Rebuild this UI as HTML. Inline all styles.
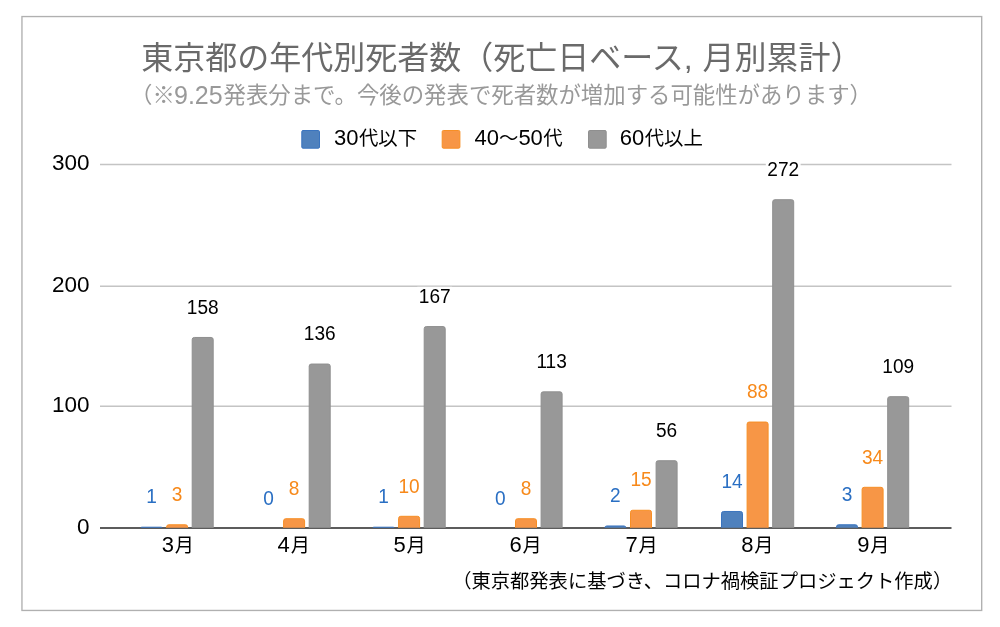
<!DOCTYPE html>
<html lang="ja">
<head>
<meta charset="utf-8">
<title>東京都の年代別死者数（死亡日ベース, 月別累計）</title>
<style>
html,body{margin:0;padding:0;background:#fff;}
body{width:1000px;height:627px;overflow:hidden;}
svg{display:block;}
text{font-family:"Liberation Sans","Noto Sans CJK JP",sans-serif;}
.title{font-size:32px;fill:#6a6a6a;}
.sub{font-size:22.4px;fill:#999;}
.sn{font-size:25px;}
.leg{font-size:19.4px;fill:#000;}
.n{font-size:22px;}
.ax{font-size:22.5px;fill:#000;}
.cat{font-size:19.2px;fill:#000;}
.dl{font-size:20.3px;}
.foot{font-size:19.3px;fill:#000;}
</style>
</head>
<body>
<svg width="1000" height="627" viewBox="0 0 1000 627">
<rect x="0" y="0" width="1000" height="627" fill="#fff"/>
<rect x="21.95" y="16.55" width="959.75" height="593.9" fill="none" stroke="#b0b0b0" stroke-width="1.35"/>
<text class="title" x="141.3" y="68.6">東京都の年代別死者数（死亡日ベース, <tspan x="702.6">月別累計）</tspan></text>
<text class="sub" x="130" y="102.5">（※<tspan class="sn" x="174" y="103.8">9.25</tspan><tspan x="223.5" y="102.5">発表分まで。今後の発表で死者数が増加する可能性があります）</tspan></text>
<rect x="301.8" y="130.5" width="17.7" height="17.7" rx="1.2" fill="#4f81bd" stroke="#3a74bf" stroke-width="1"/>
<text class="leg" x="334.0" y="144.7"><tspan class="n" dy="0.6">30</tspan><tspan dy="-0.6" dx="0.4">代以下</tspan></text>
<rect x="442.2" y="130.5" width="17.7" height="17.7" rx="1.2" fill="#f79646" stroke="#f78f25" stroke-width="1"/>
<text class="leg" x="474.5" y="144.7"><tspan class="n" dy="0.6">40</tspan><tspan dy="-0.6" dx="0">〜</tspan><tspan class="n" dy="0.6">50</tspan><tspan dy="-0.6" dx="0.4">代</tspan></text>
<rect x="588.5" y="130.5" width="17.7" height="17.7" rx="1.2" fill="#989898" stroke="#8f8f8f" stroke-width="1"/>
<text class="leg" x="619.8" y="144.7"><tspan class="n" dy="0.6">60</tspan><tspan dy="-0.6" dx="0.4">代以上</tspan></text>
<line x1="100" x2="951.5" y1="406.2" y2="406.2" stroke="#c4c4c4" stroke-width="1.5"/>
<line x1="100" x2="951.5" y1="286.3" y2="286.3" stroke="#c4c4c4" stroke-width="1.5"/>
<line x1="100" x2="951.5" y1="164.6" y2="164.6" stroke="#c4c4c4" stroke-width="1.5"/>
<text class="ax" x="89.5" y="533.5" text-anchor="end">0</text>
<text class="ax" x="89.5" y="411.7" text-anchor="end">100</text>
<text class="ax" x="89.5" y="291.7" text-anchor="end">200</text>
<text class="ax" x="89.5" y="170.2" text-anchor="end">300</text>
<line x1="100" x2="951.5" y1="527.9" y2="527.9" stroke="#5c5c5c" stroke-width="2"/>
<path d="M141.00 527.80V527.90Q141.00 527.19 141.71 527.19H161.29Q162.00 527.19 162.00 527.90V527.80" fill="#4f81bd" stroke="#3a74bf" stroke-width="1"/>
<path d="M166.60 527.80V526.87Q166.60 524.77 168.70 524.77H185.50Q187.60 524.77 187.60 526.87V527.80" fill="#f79646" stroke="#f78f25" stroke-width="1"/>
<path d="M192.20 527.80V339.56Q192.20 337.46 194.30 337.46H211.10Q213.20 337.46 213.20 339.56V527.80" fill="#989898" stroke="#8f8f8f" stroke-width="1"/>
<path d="M283.60 527.80V520.83Q283.60 518.73 285.70 518.73H302.50Q304.60 518.73 304.60 520.83V527.80" fill="#f79646" stroke="#f78f25" stroke-width="1"/>
<path d="M309.20 527.80V366.14Q309.20 364.04 311.30 364.04H328.10Q330.20 364.04 330.20 366.14V527.80" fill="#989898" stroke="#8f8f8f" stroke-width="1"/>
<path d="M373.00 527.80V527.90Q373.00 527.19 373.71 527.19H393.29Q394.00 527.19 394.00 527.90V527.80" fill="#4f81bd" stroke="#3a74bf" stroke-width="1"/>
<path d="M398.60 527.80V518.41Q398.60 516.31 400.70 516.31H417.50Q419.60 516.31 419.60 518.41V527.80" fill="#f79646" stroke="#f78f25" stroke-width="1"/>
<path d="M424.20 527.80V328.68Q424.20 326.58 426.30 326.58H443.10Q445.20 326.58 445.20 328.68V527.80" fill="#989898" stroke="#8f8f8f" stroke-width="1"/>
<path d="M515.50 527.80V520.83Q515.50 518.73 517.60 518.73H534.40Q536.50 518.73 536.50 520.83V527.80" fill="#f79646" stroke="#f78f25" stroke-width="1"/>
<path d="M541.10 527.80V393.94Q541.10 391.84 543.20 391.84H560.00Q562.10 391.84 562.10 393.94V527.80" fill="#989898" stroke="#8f8f8f" stroke-width="1"/>
<path d="M604.90 527.80V527.90Q604.90 525.98 606.82 525.98H623.98Q625.90 525.98 625.90 527.90V527.80" fill="#4f81bd" stroke="#3a74bf" stroke-width="1"/>
<path d="M630.50 527.80V512.37Q630.50 510.27 632.60 510.27H649.40Q651.50 510.27 651.50 512.37V527.80" fill="#f79646" stroke="#f78f25" stroke-width="1"/>
<path d="M656.10 527.80V462.82Q656.10 460.72 658.20 460.72H675.00Q677.10 460.72 677.10 462.82V527.80" fill="#989898" stroke="#8f8f8f" stroke-width="1"/>
<path d="M721.50 527.80V513.58Q721.50 511.48 723.60 511.48H740.40Q742.50 511.48 742.50 513.58V527.80" fill="#4f81bd" stroke="#3a74bf" stroke-width="1"/>
<path d="M747.10 527.80V424.15Q747.10 422.05 749.20 422.05H766.00Q768.10 422.05 768.10 424.15V527.80" fill="#f79646" stroke="#f78f25" stroke-width="1"/>
<path d="M772.70 527.80V201.79Q772.70 199.69 774.80 199.69H791.60Q793.70 199.69 793.70 201.79V527.80" fill="#989898" stroke="#8f8f8f" stroke-width="1"/>
<path d="M836.50 527.80V526.87Q836.50 524.77 838.60 524.77H855.40Q857.50 524.77 857.50 526.87V527.80" fill="#4f81bd" stroke="#3a74bf" stroke-width="1"/>
<path d="M862.10 527.80V489.41Q862.10 487.31 864.20 487.31H881.00Q883.10 487.31 883.10 489.41V527.80" fill="#f79646" stroke="#f78f25" stroke-width="1"/>
<path d="M887.70 527.80V398.77Q887.70 396.67 889.80 396.67H906.60Q908.70 396.67 908.70 398.77V527.80" fill="#989898" stroke="#8f8f8f" stroke-width="1"/>
<rect x="144.70" y="487.39" width="13.60" height="20" fill="#fff"/>
<text class="dl" transform="translate(151.50 503.39) scale(0.94 1)" text-anchor="middle" fill="#2a6fc3">1</text>
<rect x="170.30" y="484.97" width="13.60" height="20" fill="#fff"/>
<text class="dl" transform="translate(177.10 500.97) scale(0.94 1)" text-anchor="middle" fill="#f7891a">3</text>
<rect x="185.30" y="297.66" width="34.80" height="20" fill="#fff"/>
<text class="dl" transform="translate(202.70 313.66) scale(0.94 1)" text-anchor="middle" fill="#000">158</text>
<text class="cat" x="161.70" y="552.2"><tspan class="n">3</tspan><tspan dx="0.8">月</tspan></text>
<rect x="261.70" y="488.60" width="13.60" height="20" fill="#fff"/>
<text class="dl" transform="translate(268.50 504.60) scale(0.94 1)" text-anchor="middle" fill="#2a6fc3">0</text>
<rect x="287.30" y="478.93" width="13.60" height="20" fill="#fff"/>
<text class="dl" transform="translate(294.10 494.93) scale(0.94 1)" text-anchor="middle" fill="#f7891a">8</text>
<rect x="302.30" y="324.24" width="34.80" height="20" fill="#fff"/>
<text class="dl" transform="translate(319.70 340.24) scale(0.94 1)" text-anchor="middle" fill="#000">136</text>
<text class="cat" x="277.62" y="552.2"><tspan class="n">4</tspan><tspan dx="0.8">月</tspan></text>
<rect x="376.70" y="487.39" width="13.60" height="20" fill="#fff"/>
<text class="dl" transform="translate(383.50 503.39) scale(0.94 1)" text-anchor="middle" fill="#2a6fc3">1</text>
<rect x="397.00" y="476.51" width="24.20" height="20" fill="#fff"/>
<text class="dl" transform="translate(409.10 492.51) scale(0.94 1)" text-anchor="middle" fill="#f7891a">10</text>
<rect x="417.30" y="286.78" width="34.80" height="20" fill="#fff"/>
<text class="dl" transform="translate(434.70 302.78) scale(0.94 1)" text-anchor="middle" fill="#000">167</text>
<text class="cat" x="393.54" y="552.2"><tspan class="n">5</tspan><tspan dx="0.8">月</tspan></text>
<rect x="493.60" y="488.60" width="13.60" height="20" fill="#fff"/>
<text class="dl" transform="translate(500.40 504.60) scale(0.94 1)" text-anchor="middle" fill="#2a6fc3">0</text>
<rect x="519.20" y="478.93" width="13.60" height="20" fill="#fff"/>
<text class="dl" transform="translate(526.00 494.93) scale(0.94 1)" text-anchor="middle" fill="#f7891a">8</text>
<rect x="534.20" y="352.04" width="34.80" height="20" fill="#fff"/>
<text class="dl" transform="translate(551.60 368.04) scale(0.94 1)" text-anchor="middle" fill="#000">113</text>
<text class="cat" x="509.46" y="552.2"><tspan class="n">6</tspan><tspan dx="0.8">月</tspan></text>
<rect x="608.60" y="486.18" width="13.60" height="20" fill="#fff"/>
<text class="dl" transform="translate(615.40 502.18) scale(0.94 1)" text-anchor="middle" fill="#2a6fc3">2</text>
<rect x="628.90" y="470.47" width="24.20" height="20" fill="#fff"/>
<text class="dl" transform="translate(641.00 486.47) scale(0.94 1)" text-anchor="middle" fill="#f7891a">15</text>
<rect x="654.50" y="420.92" width="24.20" height="20" fill="#fff"/>
<text class="dl" transform="translate(666.60 436.92) scale(0.94 1)" text-anchor="middle" fill="#000">56</text>
<text class="cat" x="625.38" y="552.2"><tspan class="n">7</tspan><tspan dx="0.8">月</tspan></text>
<rect x="719.90" y="471.68" width="24.20" height="20" fill="#fff"/>
<text class="dl" transform="translate(732.00 487.68) scale(0.94 1)" text-anchor="middle" fill="#2a6fc3">14</text>
<rect x="745.50" y="382.25" width="24.20" height="20" fill="#fff"/>
<text class="dl" transform="translate(757.60 398.25) scale(0.94 1)" text-anchor="middle" fill="#f7891a">88</text>
<rect x="765.80" y="159.89" width="34.80" height="20" fill="#fff"/>
<text class="dl" transform="translate(783.20 175.89) scale(0.94 1)" text-anchor="middle" fill="#000">272</text>
<text class="cat" x="741.30" y="552.2"><tspan class="n">8</tspan><tspan dx="0.8">月</tspan></text>
<rect x="840.20" y="484.97" width="13.60" height="20" fill="#fff"/>
<text class="dl" transform="translate(847.00 500.97) scale(0.94 1)" text-anchor="middle" fill="#2a6fc3">3</text>
<rect x="860.50" y="447.51" width="24.20" height="20" fill="#fff"/>
<text class="dl" transform="translate(872.60 463.51) scale(0.94 1)" text-anchor="middle" fill="#f7891a">34</text>
<rect x="880.80" y="356.87" width="34.80" height="20" fill="#fff"/>
<text class="dl" transform="translate(898.20 372.87) scale(0.94 1)" text-anchor="middle" fill="#000">109</text>
<text class="cat" x="857.22" y="552.2"><tspan class="n">9</tspan><tspan dx="0.8">月</tspan></text>
<text class="foot" x="952.2" y="587.8" text-anchor="end">（東京都発表に基づき、コロナ禍検証プロジェクト作成）</text>
</svg>
</body>
</html>
